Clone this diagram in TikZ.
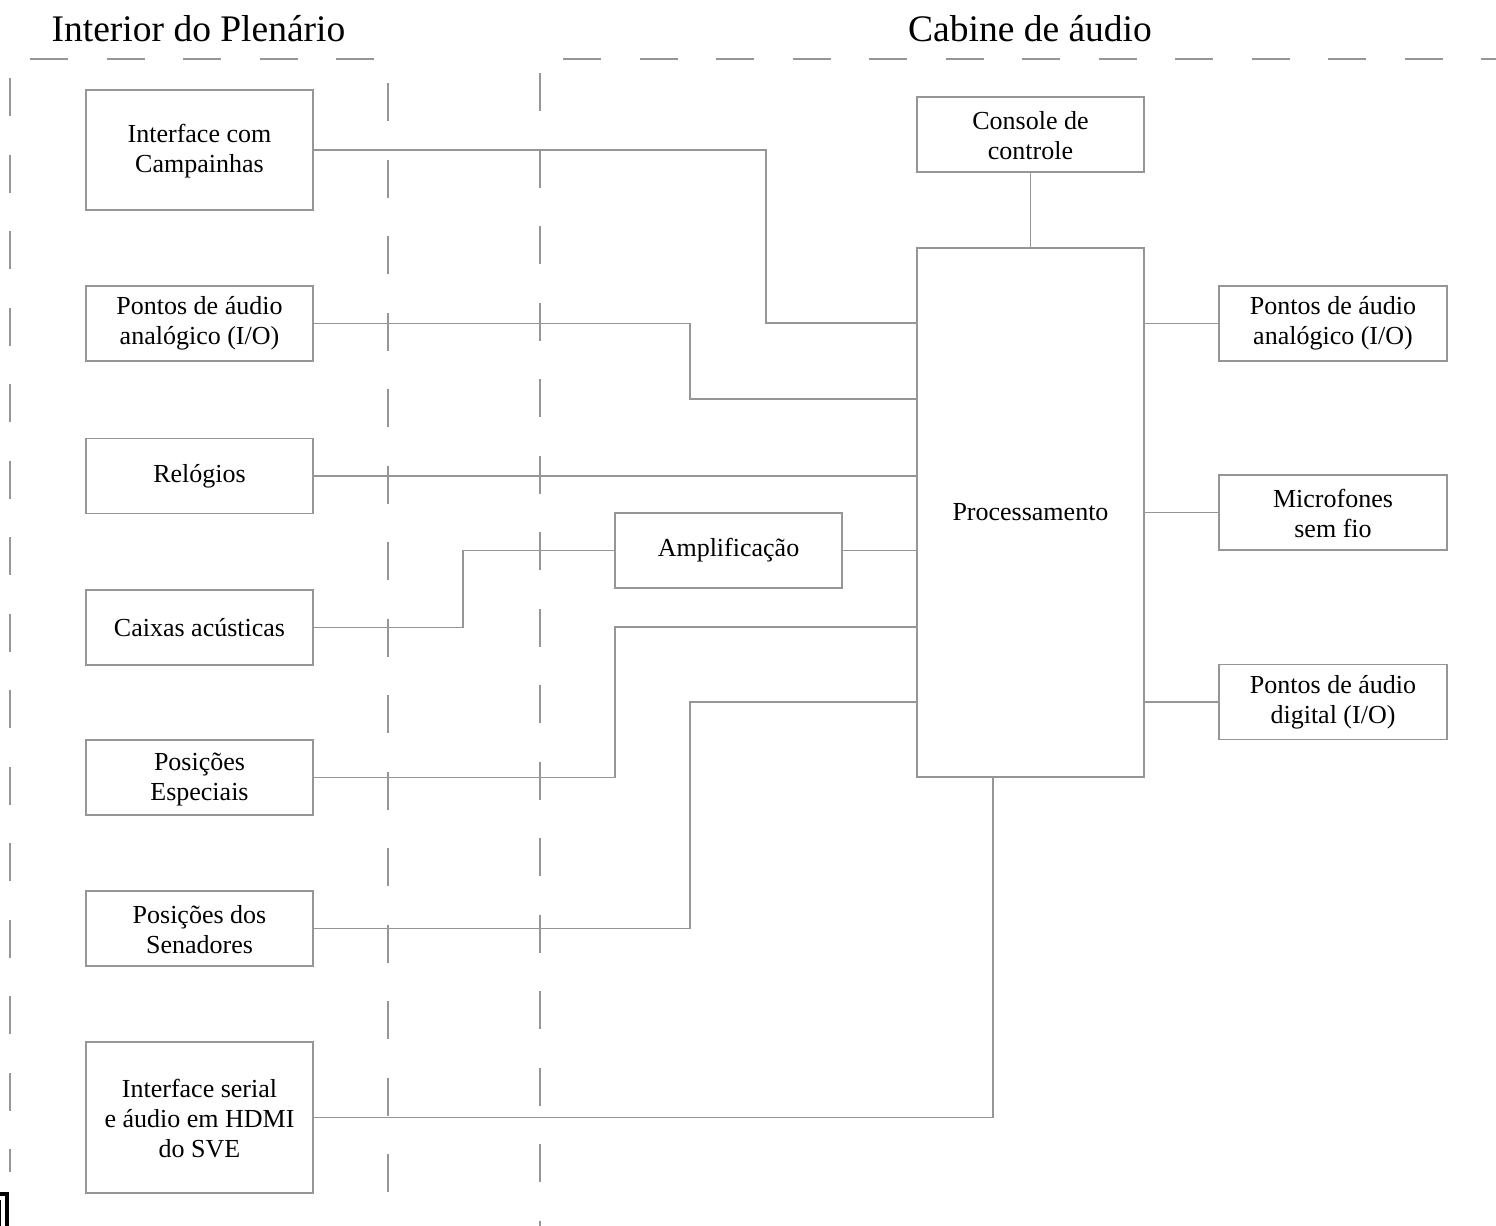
\documentclass[tikz,border=0pt]{standalone}
\usepackage{fontspec}
\setmainfont{Liberation Serif}
\definecolor{linegray}{RGB}{150,150,150}
\begin{document}
\begin{tikzpicture}[x=0.5pt,y=-0.5pt,
  conn/.style={draw=linegray, line width=0.6pt},
  sep/.style={draw=linegray, line width=0.6pt, dash pattern=on 19pt off 19.25pt},
  box/.style={draw=linegray, line width=0.6pt, rectangle, minimum width=113.5pt,
    minimum height=37.5pt, inner sep=0pt, align=center,
    font=\fontsize{13}{15}\selectfont},
  title/.style={inner sep=0pt, font=\fontsize{18.75}{22}\selectfont}
]
\useasboundingbox (0,0) rectangle (1496,1226);
\clip (0,0) rectangle (1496,1226);

% titles
\node[title] (t1) at (198.5,29) {Interior do Plenário};
\node[title] (t2) at (1030,29) {Cabine de áudio};

% separators
\draw[sep] (30,59) -- (375,59);
\draw[sep] (563,59) -- (1496,59);
\draw[sep] (10,78) -- (10,1172);
\draw[sep] (388,83) -- (388,1226);
\draw[sep] (540,73) -- (540,1226);

% left boxes
\node[box, minimum height=60pt] (camp) at (199.5,150) {\strut Interface com\\Campainhas};
\node[box] (pal) at (199.5,323.5) {Pontos de áudio\\analógico (I/O)};
\node[box] (rel) at (199.5,476) {Relógios};
\node[box] (cx) at (199.5,627.5) {Caixas acústicas};
\node[box] (esp) at (199.5,777.5) {\strut Posições\\Especiais};
\node[box] (sen) at (199.5,928.5) {\strut Posições dos\\Senadores};
\node[box, minimum height=75.5pt] (ser) at (199.5,1117.5) {\strut Interface serial\\e áudio em HDMI\\do SVE};

% middle / right
\node[box] (amp) at (728.5,550.5) {Amplificação};
\node[box] (con) at (1030.5,134.5) {\strut Console de\\controle};
\node[box, minimum height=264.5pt] (proc) at (1030.5,512.5) {Processamento};
\node[box, minimum width=114pt] (par) at (1333,323.5) {Pontos de áudio\\analógico (I/O)};
\node[box, minimum width=114pt] (mic) at (1333,512.5) {\strut Microfones\\sem fio};
\node[box, minimum width=114pt] (pdg) at (1333,702) {Pontos de áudio\\digital (I/O)};

% connectors
\draw[conn] (camp.east) -| (766,323) -- (proc.west |- 0,323);
\draw[conn] (pal.east) -| (690,399) -- (proc.west |- 0,399);
\draw[conn] (rel.east) -- (proc.west |- rel.east);
\draw[conn] (cx.east) -| (463,550.5) -- (amp.west);
\draw[conn] (amp.east) -- (proc.west |- amp.east);
\draw[conn] (esp.east) -| (615,627) -- (proc.west |- 0,627);
\draw[conn] (sen.east) -| (690,702) -- (proc.west |- 0,702);
\draw[conn] (ser.east) -| (proc.south -| 993,0);
\draw[conn] (con.south) -- (proc.north);
\draw[conn] (proc.east |- par.west) -- (par.west);
\draw[conn] (proc.east |- mic.west) -- (mic.west);
\draw[conn] (proc.east |- pdg.west) -- (pdg.west);

% clipped mark at bottom-left corner
\draw[black, line width=1.6pt] (-20,1194) rectangle (7,1250);
\draw[black, line width=0.6pt, fill=gray!40] (-10,1201) rectangle (0,1226);
\end{tikzpicture}
\end{document}
